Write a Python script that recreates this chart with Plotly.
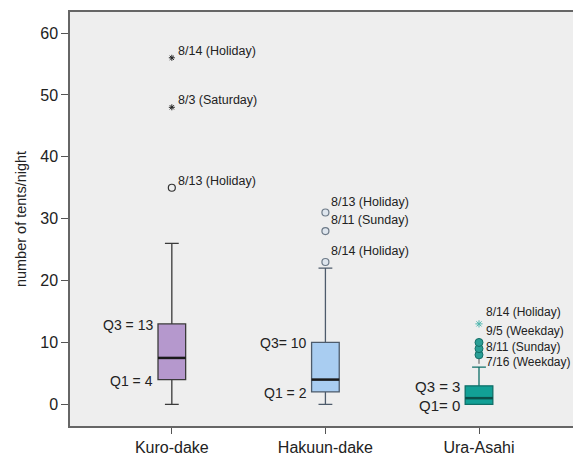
import plotly.graph_objects as go

# ---- data ----
sites = ["Kuro-dake", "Hakuun-dake", "Ura-Asahi"]
q1 = [4, 2, 0]
median = [7.5, 4, 1]
q3 = [13, 10, 3]
lower_whisker = [0, 0, 0]
upper_whisker = [26, 22, 6]

kuro_out_vals = [35, 48, 56]
kuro_out_labels = ["8/13 (Holiday)", "8/3 (Saturday)", "8/14 (Holiday)"]
hakuun_out_vals = [23, 28, 31]
hakuun_out_labels = ["8/14 (Holiday)", "8/11 (Sunday)", "8/13 (Holiday)"]
ura_out_vals = [7, 8, 9, 10, 13]
ura_out_labels = ["7/16 (Weekday)", "8/11 (Sunday)", None, "9/5 (Weekday)", "8/14 (Holiday)"]

q3_labels = ["Q3 = 13", "Q3= 10", "Q3 = 3"]
q1_labels = ["Q1 = 4", "Q1 = 2", "Q1= 0"]

y_ticks = [0, 10, 20, 30, 40, 50, 60]

# ---- style ----
FONT = "Liberation Sans, Arial, sans-serif"
fills = ["#b598cd", "#a9cdf1", "#12a096"]
edges = ["#3a3a3a", "#4d5b6b", "#0f6f68"]
BOXW = 0.18
pos = list(range(len(sites)))

fig = go.Figure()

for i in pos:
    fig.add_trace(go.Box(
        x=[pos[i]], q1=[q1[i]], median=[median[i]], q3=[q3[i]],
        lowerfence=[lower_whisker[i]], upperfence=[upper_whisker[i]],
        width=BOXW, whiskerwidth=0.5, boxpoints=False,
        fillcolor=fills[i], line=dict(color=edges[i], width=1.3),
        showlegend=False, hoverinfo="skip"))
    fig.add_trace(go.Scatter(
        x=[pos[i] - BOXW / 2, pos[i] + BOXW / 2], y=[median[i], median[i]],
        mode="lines", line=dict(color="#1a1a1a" if i < 2 else "#0b4f4a", width=2.5),
        showlegend=False, hoverinfo="skip"))

# Kuro-dake outliers
fig.add_trace(go.Scatter(x=[pos[0]], y=kuro_out_vals[:1], mode="markers",
                         marker=dict(symbol="circle-open", size=7, color="#333", line=dict(width=1.2)),
                         showlegend=False))
fig.add_trace(go.Scatter(x=[pos[0]] * 2, y=kuro_out_vals[1:], mode="markers",
                         marker=dict(symbol="asterisk-open", size=5, color="#222", line=dict(width=1)),
                         showlegend=False))
# Hakuun-dake outliers
fig.add_trace(go.Scatter(x=[pos[1]] * 3, y=hakuun_out_vals, mode="markers",
                         marker=dict(symbol="circle", size=7, color="#dfe6ee",
                                     line=dict(width=1.2, color="#6d7a88")),
                         showlegend=False))
# Ura-Asahi outliers
fig.add_trace(go.Scatter(x=[pos[2]], y=ura_out_vals[:1], mode="markers",
                         marker=dict(symbol="line-ns-open", size=4, color="#555", line=dict(width=1)),
                         showlegend=False))
fig.add_trace(go.Scatter(x=[pos[2]] * 3, y=ura_out_vals[1:4], mode="markers",
                         marker=dict(symbol="circle", size=8, color="#2a9e95",
                                     line=dict(width=1, color="#136e66")),
                         showlegend=False))
fig.add_trace(go.Scatter(x=[pos[2]], y=ura_out_vals[4:], mode="markers",
                         marker=dict(symbol="asterisk-open", size=6, color="#4cb5ad", line=dict(width=1)),
                         showlegend=False))

ann = []
def lab(x, y, t, xs, ys, size=12.5):
    ann.append(dict(x=x, y=y, text=t, showarrow=False, xanchor="left", yanchor="middle",
                    xshift=xs, yshift=ys, font=dict(family=FONT, size=size, color="#222")))

for v, t in zip(kuro_out_vals, kuro_out_labels):
    lab(pos[0], v, t, 4, 7)
for v, t in zip(hakuun_out_vals, hakuun_out_labels):
    lab(pos[1], v, t, 4, 11)
ura_shift = [-1, 8, 0, 11, 12]
for v, t, s in zip(ura_out_vals, ura_out_labels, ura_shift):
    if t:
        lab(pos[2], v, t, 5, s, size=12)

qsize = [14, 14, 15]
for i in pos:
    for v, t in ((q3[i], q3_labels[i]), (q1[i], q1_labels[i])):
        ann.append(dict(x=pos[i] - BOXW / 2, y=v, text=t, showarrow=False,
                        xanchor="right", yanchor="middle", xshift=-3, yshift=-1,
                        font=dict(family=FONT, size=qsize[i], color="#222")))

fig.update_layout(
    width=573, height=456,
    margin=dict(l=70, r=0, t=12, b=26),
    paper_bgcolor="white", plot_bgcolor="#eeeeee",
    font=dict(family=FONT, color="#222"),
    annotations=ann,
    xaxis=dict(range=[-0.663, 2.612], tickvals=pos, ticktext=sites,
               showline=True, mirror=True, linecolor="#666", linewidth=1.5,
               ticks="outside", ticklen=6, tickcolor="#555", showgrid=False, zeroline=False,
               tickfont=dict(size=16, color="#222")),
    yaxis=dict(range=[-3.5, 63.4], tickvals=y_ticks, showline=True, linecolor="#666", linewidth=1.5,
               ticks="outside", ticklen=7, tickcolor="#555", showgrid=False, zeroline=False,
               tickfont=dict(size=16, color="#222"),
               title=dict(text="number of tents/night", font=dict(size=14.5, color="#222"), standoff=10)),
)

fig.write_html("out.html", config={"displayModeBar": False},
               post_script="document.body.style.margin='0';document.body.style.overflow='hidden';")
